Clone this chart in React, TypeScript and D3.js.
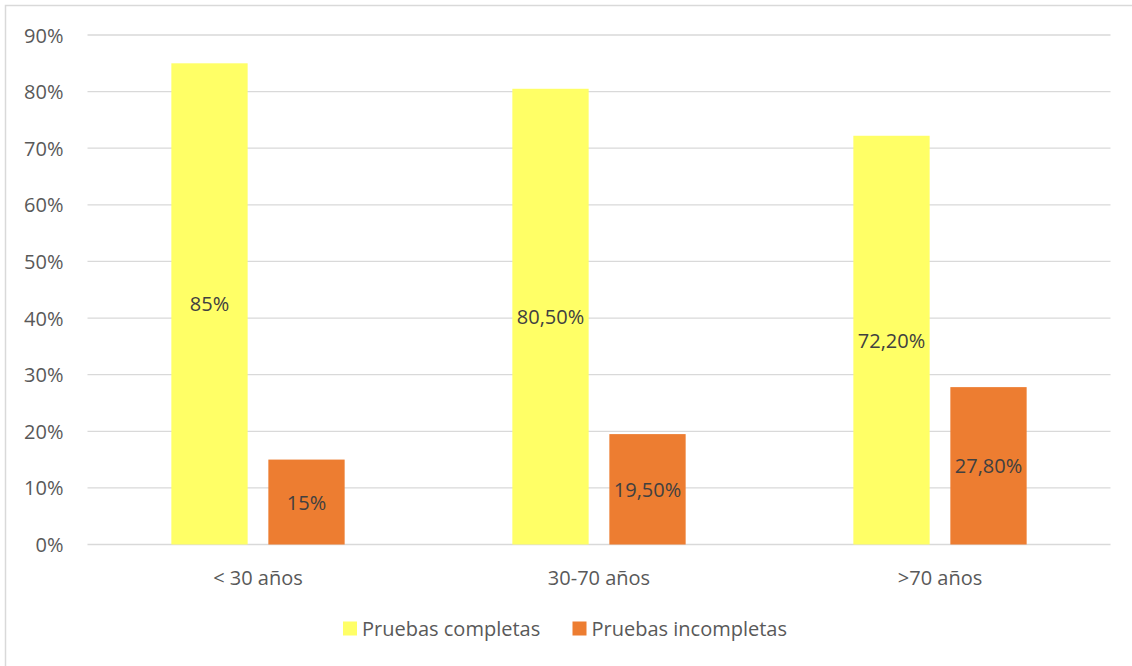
import React from "react";
import * as d3 from "d3";

const categories = ["< 30 años", "30-70 años", ">70 años"];
const seriesNames = ["Pruebas completas", "Pruebas incompletas"];
const completas = [85, 80.5, 72.2];
const incompletas = [15, 19.5, 27.8];
const labelsCompletas = ["85%", "80,50%", "72,20%"];
const labelsIncompletas = ["15%", "19,50%", "27,80%"];
const yTicks = [0, 10, 20, 30, 40, 50, 60, 70, 80, 90];
const colors = ["#FFFF66", "#ED7D31"];

const W = 1132;
const H = 666;
const FONT = "'Open Sans', sans-serif";

export default function App() {
  const left = 87.5;
  const right = 1110.5;
  const top = 35;
  const bottom = 544.5;
  const x = d3.scaleBand<string>().domain(categories).range([left, right]).paddingInner(0).paddingOuter(0);
  const y = d3.scaleLinear().domain([0, 90]).range([bottom, top]);
  const barW = 76.3;
  const gap = 20.7;
  const series = [
    { name: seriesNames[0], values: completas, labels: labelsCompletas, color: colors[0] },
    { name: seriesNames[1], values: incompletas, labels: labelsIncompletas, color: colors[1] },
  ];
  const groupW = barW * 2 + gap;
  const fs = 20;

  return (
    <svg
      width={W}
      height={H}
      style={{ position: "absolute", left: 0, top: 0, display: "block", background: "#fff" }}
      fontFamily={FONT}
    >
      <rect x={5.5} y={5.5} width={W + 10} height={H + 10} fill="#fff" stroke="#D9D9D9" strokeWidth={1.5} />
      {yTicks.map((t) => (
        <g key={t}>
          <line x1={left} x2={right} y1={y(t)} y2={y(t)} stroke="#D9D9D9" strokeWidth={1.3} />
          <text x={63.5} y={y(t)} textAnchor="end" dominantBaseline="central" fontSize={fs} fill="#595959">
            {t}%
          </text>
        </g>
      ))}
      {categories.map((c, i) => {
        const cx = (x(c) as number) + x.bandwidth() / 2;
        const gx = cx - groupW / 2;
        return (
          <g key={c}>
            {series.map((s, j) => {
              const bx = gx + j * (barW + gap);
              const by = y(s.values[i]);
              return (
                <g key={s.name}>
                  <rect x={bx} y={by} width={barW} height={bottom - by} fill={s.color} />
                  <text
                    x={bx + barW / 2}
                    y={(by + bottom) / 2}
                    textAnchor="middle"
                    dominantBaseline="central"
                    fontSize={fs}
                    fill="#404040"
                  >
                    {s.labels[i]}
                  </text>
                </g>
              );
            })}
            <text x={cx} y={577} textAnchor="middle" dominantBaseline="central" fontSize={fs} fill="#595959">
              {c}
            </text>
          </g>
        );
      })}
      {series.map((s, j) => {
        const lx = j === 0 ? 343 : 572.5;
        return (
          <g key={s.name}>
            <rect x={lx} y={621.5} width={14} height={14} fill={s.color} />
            <text x={lx + 19} y={628.5} dominantBaseline="central" fontSize={fs} fill="#595959">
              {s.name}
            </text>
          </g>
        );
      })}
    </svg>
  );
}
